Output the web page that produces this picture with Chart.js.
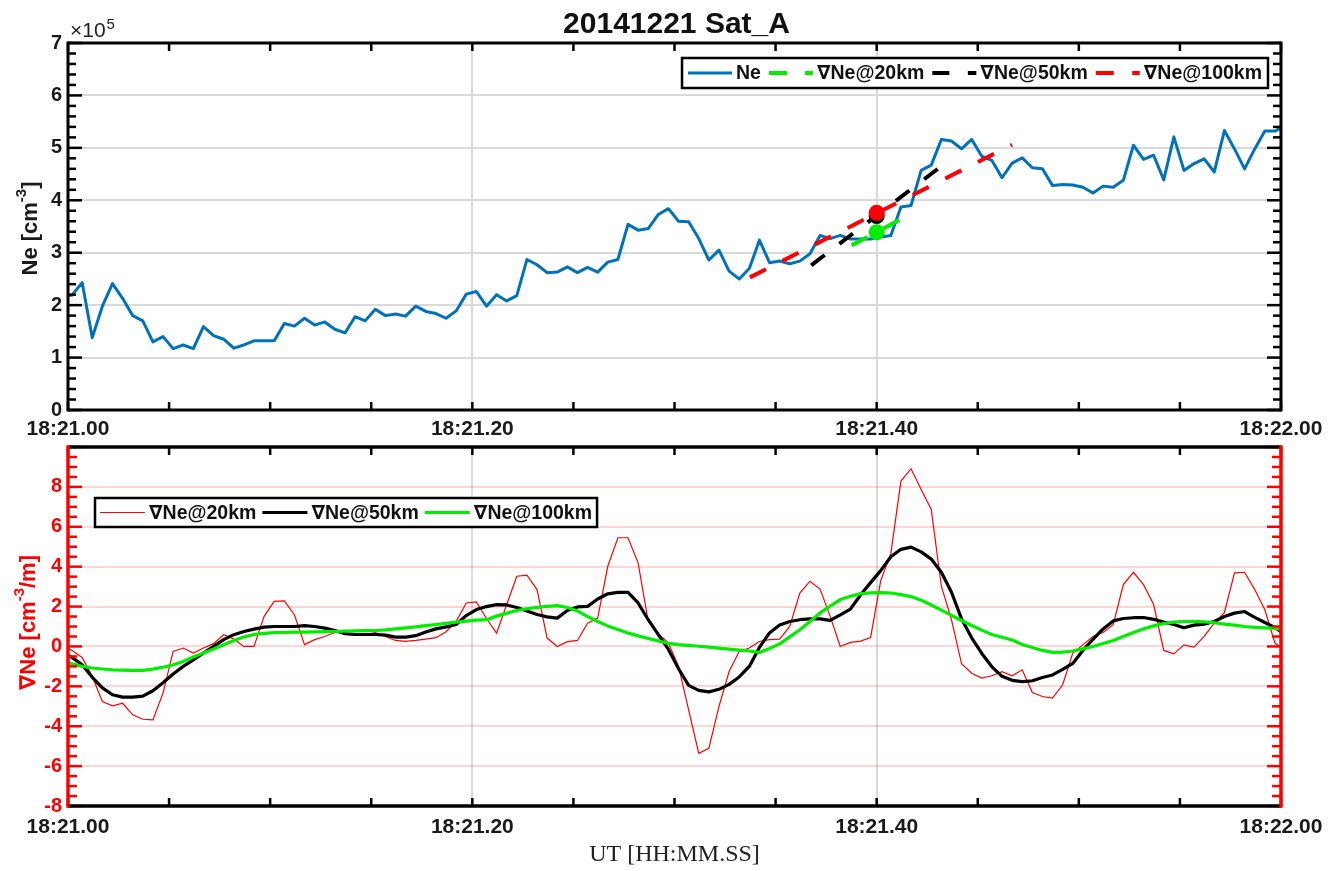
<!DOCTYPE html>
<html>
<head>
<meta charset="utf-8">
<title>20141221 Sat_A</title>
<script src="https://cdn.jsdelivr.net/npm/chart.js@4.4.1/dist/chart.umd.min.js"></script>
<style>
  html, body { margin: 0; padding: 0; background: #fff; }
  #wrap { position: relative; width: 1338px; height: 871px; overflow: hidden; background: #fff; }
  canvas { position: absolute; left: 0; }
  #neChart { top: 0; }
  #gradChart { top: 425px; }
</style>
</head>
<body>
<div id="wrap">
  <canvas id="neChart" width="1338" height="445"></canvas>
  <canvas id="gradChart" width="1338" height="446"></canvas>
</div>
<script>
// ---- sample times, seconds after 18:21:00 UT (2 Hz) ----
const sampleTimes = [
  -0.3,
  0.2, 0.7, 1.2, 1.7, 2.2, 2.7, 3.2, 3.7, 4.2, 4.7,
  5.2, 5.7, 6.2, 6.7, 7.2, 7.7, 8.2, 8.7, 9.2, 9.7,
  10.2, 10.7, 11.2, 11.7, 12.2, 12.7, 13.2, 13.7, 14.2, 14.7,
  15.2, 15.7, 16.2, 16.7, 17.2, 17.7, 18.2, 18.7, 19.2, 19.7,
  20.2, 20.7, 21.2, 21.7, 22.2, 22.7, 23.2, 23.7, 24.2, 24.7,
  25.2, 25.7, 26.2, 26.7, 27.2, 27.7, 28.2, 28.7, 29.2, 29.7,
  30.2, 30.7, 31.2, 31.7, 32.2, 32.7, 33.2, 33.7, 34.2, 34.7,
  35.2, 35.7, 36.2, 36.7, 37.2, 37.7, 38.2, 38.7, 39.2, 39.7,
  40.2, 40.7, 41.2, 41.7, 42.2, 42.7, 43.2, 43.7, 44.2, 44.7,
  45.2, 45.7, 46.2, 46.7, 47.2, 47.7, 48.2, 48.7, 49.2, 49.7,
  50.2, 50.7, 51.2, 51.7, 52.2, 52.7, 53.2, 53.7, 54.2, 54.7,
  55.2, 55.7, 56.2, 56.7, 57.2, 57.7, 58.2, 58.7, 59.2, 59.7,
  60.2
];

// ---- electron density Ne, units of 1e5 cm^-3 ----
const neValues = [
  2.17,
  2.19, 2.43, 1.38, 1.98, 2.41, 2.13, 1.80, 1.70, 1.30, 1.40,
  1.17, 1.24, 1.17, 1.59, 1.42, 1.35, 1.18, 1.24, 1.32, 1.32,
  1.32, 1.65, 1.60, 1.75, 1.62, 1.68, 1.54, 1.47, 1.78, 1.70,
  1.92, 1.80, 1.83, 1.79, 1.98, 1.88, 1.84, 1.75, 1.89, 2.21,
  2.26, 1.98, 2.20, 2.08, 2.18, 2.87, 2.77, 2.62, 2.63, 2.73,
  2.62, 2.72, 2.63, 2.82, 2.87, 3.54, 3.43, 3.46, 3.73, 3.84,
  3.60, 3.59, 3.27, 2.86, 3.05, 2.65, 2.50, 2.70, 3.24, 2.81,
  2.84, 2.79, 2.84, 2.98, 3.33, 3.27, 3.33, 3.26, 3.26, 3.26,
  3.30, 3.33, 3.87, 3.90, 4.57, 4.67, 5.16, 5.13, 4.98, 5.16,
  4.84, 4.76, 4.43, 4.71, 4.81, 4.62, 4.60, 4.28, 4.30, 4.29,
  4.25, 4.14, 4.27, 4.25, 4.38, 5.05, 4.78, 4.86, 4.39, 5.21,
  4.57, 4.70, 4.79, 4.54, 5.33, 4.98, 4.60, 4.98, 5.32, 5.32,
  5.42
];

// ---- Ne gradient over 20 / 50 / 100 km baselines ----
const grad20 = [
  0.05,
  -0.20, -0.55, -1.50, -2.76, -2.98, -2.85, -3.43, -3.65, -3.68, -2.34,
  -0.25, -0.08, -0.33, -0.08, 0.14, 0.59, 0.37, 0.00, 0.00, 1.51,
  2.26, 2.28, 1.59, 0.09, 0.34, 0.50, 0.70, 0.80, 0.75, 0.80,
  0.70, 0.50, 0.30, 0.25, 0.30, 0.37, 0.44, 0.74, 1.26, 2.18,
  2.23, 1.40, 0.67, 2.10, 3.52, 3.57, 2.85, 0.42, 0.00, 0.24,
  0.30, 1.17, 1.42, 4.02, 5.45, 5.45, 4.19, 1.26, 0.64, 0.17,
  -1.00, -3.18, -5.36, -5.11, -3.01, -1.26, -0.25, -0.08, 0.25, 0.34,
  0.37, 1.00, 2.68, 3.27, 2.88, 1.51, 0.00, 0.20, 0.27, 0.45,
  3.30, 4.65, 8.29, 8.91, 7.87, 6.87, 3.02, 1.34, -0.87, -1.34,
  -1.59, -1.47, -1.26, -1.47, -1.17, -2.31, -2.51, -2.59, -1.92, -0.33,
  0.08, 0.50, 0.70, 1.09, 3.10, 3.72, 3.10, 2.10, -0.20, -0.37,
  0.08, -0.03, 0.50, 1.17, 1.69, 3.69, 3.72, 2.85, 1.84, 0.17,
  -0.20
];
const grad50 = [
  -0.32,
  -0.55, -0.92, -1.55, -2.08, -2.42, -2.54, -2.54, -2.49, -2.22, -1.82,
  -1.38, -1.00, -0.67, -0.33, 0.00, 0.34, 0.59, 0.75, 0.87, 0.97,
  1.00, 1.00, 1.00, 1.04, 1.00, 0.92, 0.80, 0.64, 0.60, 0.60,
  0.60, 0.57, 0.47, 0.47, 0.54, 0.72, 0.88, 0.98, 1.10, 1.55,
  1.85, 2.00, 2.10, 2.08, 1.95, 1.78, 1.60, 1.48, 1.42, 1.80,
  1.98, 2.01, 2.38, 2.64, 2.71, 2.71, 2.18, 1.34, 0.59, -0.15,
  -1.12, -1.95, -2.20, -2.28, -2.15, -1.90, -1.53, -1.00, -0.05, 0.68,
  1.08, 1.25, 1.34, 1.38, 1.38, 1.31, 1.58, 1.87, 2.58, 3.20,
  3.80, 4.50, 4.87, 4.98, 4.74, 4.38, 3.72, 2.72, 1.38, 0.43,
  -0.35, -1.02, -1.50, -1.70, -1.76, -1.72, -1.56, -1.43, -1.15, -0.85,
  -0.20, 0.36, 0.88, 1.28, 1.40, 1.44, 1.45, 1.36, 1.22, 1.10,
  0.94, 1.07, 1.12, 1.25, 1.50, 1.67, 1.75, 1.46, 1.20, 0.95,
  0.60
];
const grad100 = [
  -0.75,
  -0.87, -1.00, -1.08, -1.13, -1.17, -1.19, -1.20, -1.20, -1.14, -1.04,
  -0.92, -0.75, -0.53, -0.33, -0.13, 0.08, 0.30, 0.47, 0.60, 0.66,
  0.69, 0.70, 0.72, 0.72, 0.73, 0.74, 0.75, 0.77, 0.78, 0.79,
  0.80, 0.83, 0.88, 0.93, 0.98, 1.04, 1.10, 1.16, 1.22, 1.27,
  1.32, 1.34, 1.52, 1.67, 1.80, 1.89, 1.96, 2.01, 2.05, 1.95,
  1.78, 1.50, 1.25, 1.03, 0.85, 0.67, 0.53, 0.40, 0.28, 0.15,
  0.09, 0.05, 0.01, -0.03, -0.08, -0.13, -0.18, -0.23, -0.30, -0.10,
  0.13, 0.48, 0.84, 1.25, 1.68, 2.02, 2.35, 2.52, 2.65, 2.69,
  2.70, 2.68, 2.60, 2.50, 2.32, 2.08, 1.82, 1.56, 1.30, 1.05,
  0.82, 0.60, 0.46, 0.32, 0.10, -0.05, -0.20, -0.30, -0.28, -0.23,
  -0.12, 0.00, 0.15, 0.30, 0.50, 0.70, 0.88, 1.03, 1.15, 1.22,
  1.25, 1.26, 1.23, 1.19, 1.12, 1.07, 1.00, 0.96, 0.93, 0.90,
  0.83
];

// ---- local gradient segments around 18:21:40 (Ne units) ----
const tan20Times = [38.76, 41.24];
const tan20Values = [3.14, 3.65];
const tan50Times = [36.76, 43.13];
const tan50Values = [2.76, 4.63];
const tan100Times = [33.73, 46.70];
const tan100Values = [2.53, 5.06];
const markerTime = [40];
const marker20 = [3.39];
const marker50 = [3.70];
const marker100 = [3.76];

// ---- axis ticks ----
const timeTicks = [0, 20, 40, 60];
const timeTickLabels = ['18:21.00', '18:21.20', '18:21.40', '18:22.00'];
const neTicks = [0, 1, 2, 3, 4, 5, 6, 7];
const gradTicks = [-8, -6, -4, -2, 0, 2, 4, 6, 8];

const SANS = '"Liberation Sans", "DejaVu Sans", Arial, Helvetica, sans-serif';
const SERIF = '"Liberation Serif", "DejaVu Serif", "Times New Roman", serif';
const BLUE = '#0072BD';
const GREEN = '#00ee00';
const RED = '#ff0000';

function toPoints(ts, vs) { return ts.map((t, i) => ({ x: t, y: vs[i] })); }

// Box, inward tick marks (major + minor) drawn over the plot like a framed axes
const axesBox = {
  id: 'axesBox',
  afterDraw(chart, _args, o) {
    const { ctx, chartArea: a } = chart;
    const xs = chart.scales.x, ys = chart.scales.y;
    const seg = (x1, y1, x2, y2) => { ctx.beginPath(); ctx.moveTo(x1, y1); ctx.lineTo(x2, y2); ctx.stroke(); };
    ctx.save();
    ctx.lineCap = 'butt';
    ctx.lineWidth = 2.5;
    ctx.strokeStyle = '#000';
    const nx = Math.round((xs.max - xs.min) / o.xStep);
    for (let i = 0; i <= nx; i++) {
      const px = xs.getPixelForValue(xs.min + i * o.xStep);
      seg(px, a.bottom, px, a.bottom - o.xLen);
      seg(px, a.top, px, a.top + o.xLen);
    }
    const ny = Math.round((ys.max - ys.min) / o.yStep);
    for (let i = 0; i <= ny; i++) {
      const v = ys.min + i * o.yStep;
      const py = ys.getPixelForValue(v);
      const r = v / o.yMajor;
      const len = Math.abs(r - Math.round(r)) < 1e-6 ? o.yMajorLen : o.yMinorLen;
      ctx.strokeStyle = o.leftColor; seg(a.left, py, a.left + len, py);
      ctx.strokeStyle = o.rightColor; seg(a.right, py, a.right - len, py);
    }
    ctx.lineWidth = o.frameWidth;
    ctx.strokeStyle = '#000';
    seg(a.left, a.top, a.right, a.top);
    seg(a.left, a.bottom, a.right, a.bottom);
    const h = o.frameWidth / 2;
    ctx.strokeStyle = o.leftColor; seg(a.left, a.top - h, a.left, a.bottom + h);
    ctx.strokeStyle = o.rightColor; seg(a.right, a.top - h, a.right, a.bottom + h);
    ctx.restore();
  }
};

// Framed legend placed inside the plot area
const boxLegend = {
  id: 'boxLegend',
  afterDraw(chart, _args, o) {
    const { ctx, chartArea: a } = chart;
    const items = o.items.map(i => chart.data.datasets[i]);
    ctx.save();
    ctx.font = o.font;
    const widths = items.map(d => ctx.measureText(d.label).width);
    let total = o.padX * 2;
    items.forEach((d, i) => {
      total += o.sampleW + o.sampleGap + widths[i];
      if (i < items.length - 1) total += o.itemGap;
    });
    const left = o.anchor === 'right' ? a.right - o.offsetX - total : a.left + o.offsetX;
    const top = a.top + o.offsetY;
    ctx.fillStyle = '#fff';
    ctx.fillRect(left, top, total, o.height);
    ctx.lineWidth = 2.5;
    ctx.strokeStyle = '#000';
    ctx.strokeRect(left, top, total, o.height);
    let x = left + o.padX;
    const cy = top + o.height / 2;
    items.forEach((d, i) => {
      ctx.strokeStyle = d.borderColor;
      ctx.lineWidth = d.borderWidth;
      ctx.setLineDash(d.borderDash || []);
      ctx.beginPath(); ctx.moveTo(x, cy); ctx.lineTo(x + o.sampleW, cy); ctx.stroke();
      ctx.setLineDash([]);
      x += o.sampleW + o.sampleGap;
      ctx.fillStyle = '#111';
      ctx.textAlign = 'left';
      ctx.textBaseline = 'middle';
      ctx.fillText(d.label, x, cy + 1);
      x += widths[i] + o.itemGap;
    });
    ctx.restore();
  }
};

// Rotated axis label with a superscript part
function drawRotatedLabel(ctx, baseX, centerY, parts, color) {
  ctx.save();
  ctx.fillStyle = color;
  ctx.textBaseline = 'alphabetic';
  ctx.textAlign = 'left';
  let total = 0;
  parts.forEach(p => { ctx.font = p.font; p.w = ctx.measureText(p.text).width; total += p.w; });
  ctx.translate(baseX, centerY);
  ctx.rotate(-Math.PI / 2);
  let x = -total / 2;
  parts.forEach(p => { ctx.font = p.font; ctx.fillText(p.text, x, -p.raise); x += p.w; });
  ctx.restore();
}

const neLabels = {
  id: 'neLabels',
  afterDraw(chart) {
    const { ctx, chartArea: a } = chart;
    ctx.save();
    ctx.fillStyle = '#111';
    ctx.font = 'bold 30px ' + SANS;
    ctx.textAlign = 'center';
    ctx.textBaseline = 'alphabetic';
    ctx.fillText('20141221 Sat_A', (a.left + a.right) / 2 + 2, 33);
    // exponent of the Ne axis
    ctx.textAlign = 'left';
    ctx.font = '21px ' + SANS;
    ctx.fillStyle = '#222';
    ctx.fillText('\u00d710', a.left + 2, 37);
    const w = ctx.measureText('\u00d710').width;
    ctx.font = '15px ' + SANS;
    ctx.fillText('5', a.left + 2 + w + 1, 29);
    ctx.restore();
    drawRotatedLabel(ctx, 37, (a.top + a.bottom) / 2 + 2, [
      { text: 'Ne [cm', font: 'bold 22px ' + SANS, raise: 0 },
      { text: '-3', font: 'bold 15px ' + SANS, raise: 11 },
      { text: ']', font: 'bold 22px ' + SANS, raise: 0 }
    ], '#1a1a1a');
  }
};

const gradLabels = {
  id: 'gradLabels',
  afterDraw(chart) {
    const { ctx, chartArea: a } = chart;
    drawRotatedLabel(ctx, 35, (a.top + a.bottom) / 2 - 4, [
      { text: '\u2207Ne [cm', font: 'bold 22px ' + SANS, raise: 0 },
      { text: '-3', font: 'bold 15px ' + SANS, raise: 11 },
      { text: '/m]', font: 'bold 22px ' + SANS, raise: 0 }
    ], RED);
    ctx.save();
    ctx.fillStyle = '#222';
    ctx.font = '24px ' + SERIF;
    ctx.textAlign = 'center';
    ctx.textBaseline = 'middle';
    ctx.fillText('UT [HH:MM.SS]', (a.left + a.right) / 2, 430);
    ctx.restore();
  }
};

function timeAxis(canvasH, chartBottom, labelPad) {
  return {
    type: 'linear',
    position: 'bottom',
    min: 0,
    max: 60,
    afterBuildTicks: s => { s.ticks = timeTicks.map(v => ({ value: v })); },
    afterFit: s => { s.height = canvasH - chartBottom; },
    ticks: {
      autoSkip: false,
      maxRotation: 0,
      padding: labelPad,
      color: '#1a1a1a',
      font: { family: SANS, size: 21, weight: 'bold' },
      callback: (v, i) => timeTickLabels[i]
    },
    grid: {
      drawTicks: false,
      lineWidth: 2,
      color: c => (c.tick && (c.tick.value === 20 || c.tick.value === 40)) ? 'rgba(0,0,0,0.15)' : 'rgba(0,0,0,0)'
    },
    border: { display: false }
  };
}

// ---------- upper panel: Ne ----------
new Chart(document.getElementById('neChart'), {
  type: 'line',
  data: {
    datasets: [
      { label: 'Ne', data: toPoints(sampleTimes, neValues), borderColor: BLUE, borderWidth: 3,
        pointRadius: 0, borderJoinStyle: 'round', order: 10 },
      { label: '\u2207Ne@20km', data: toPoints(tan20Times, tan20Values), borderColor: GREEN, borderWidth: 4,
        borderDash: [18, 18], pointRadius: 0, order: 7 },
      { label: '\u2207Ne@50km', data: toPoints(tan50Times, tan50Values), borderColor: '#000', borderWidth: 4,
        borderDash: [17, 18.5], pointRadius: 0, order: 6 },
      { label: '\u2207Ne@100km', data: toPoints(tan100Times, tan100Values), borderColor: RED, borderWidth: 4,
        borderDash: [18, 18.5], pointRadius: 0, order: 5 },
      { label: 'point50', data: toPoints(markerTime, marker50), showLine: false, pointRadius: 8,
        pointBackgroundColor: '#000', pointBorderColor: '#000', pointBorderWidth: 0, order: 3 },
      { label: 'point100', data: toPoints(markerTime, marker100), showLine: false, pointRadius: 8,
        pointBackgroundColor: RED, pointBorderColor: RED, pointBorderWidth: 0, order: 2 },
      { label: 'point20', data: toPoints(markerTime, marker20), showLine: false, pointRadius: 8,
        pointBackgroundColor: GREEN, pointBorderColor: GREEN, pointBorderWidth: 0, order: 1 }
    ]
  },
  options: {
    responsive: false,
    animation: false,
    devicePixelRatio: 1,
    events: [],
    layout: { padding: { top: 43, right: 57, left: 0, bottom: 0 } },
    plugins: {
      legend: { display: false },
      tooltip: { enabled: false },
      axesBox: { xStep: 5, xLen: 8, yStep: 0.2, yMajor: 1, yMajorLen: 14, yMinorLen: 8,
                 leftColor: '#000', rightColor: '#000', frameWidth: 3 },
      boxLegend: { items: [0, 1, 2, 3], font: 'bold 19.5px ' + SANS, anchor: 'right', offsetX: 13, offsetY: 15,
                   height: 30, padX: 6, sampleW: 44, sampleGap: 4, itemGap: 8 }
    },
    scales: {
      x: timeAxis(445, 410, 7),
      y: {
        min: 0,
        max: 7,
        afterBuildTicks: s => { s.ticks = neTicks.map(v => ({ value: v })); },
        afterFit: s => { s.width = 68; },
        ticks: { padding: 6, color: '#1a1a1a', font: { family: SANS, size: 20, weight: 'bold' } },
        grid: { drawTicks: false, lineWidth: 2,
                color: c => (c.tick && c.tick.value > 0 && c.tick.value < 7) ? '#d9d9d9' : 'rgba(0,0,0,0)' },
        border: { display: false }
      }
    }
  },
  plugins: [axesBox, boxLegend, neLabels]
});

// ---------- lower panel: gradients ----------
new Chart(document.getElementById('gradChart'), {
  type: 'line',
  data: {
    datasets: [
      { label: '\u2207Ne@20km', data: toPoints(sampleTimes, grad20), borderColor: RED, borderWidth: 1.2,
        pointRadius: 0, order: 3 },
      { label: '\u2207Ne@50km', data: toPoints(sampleTimes, grad50), borderColor: '#000', borderWidth: 3.2,
        pointRadius: 0, borderJoinStyle: 'round', order: 2 },
      { label: '\u2207Ne@100km', data: toPoints(sampleTimes, grad100), borderColor: GREEN, borderWidth: 3.2,
        pointRadius: 0, borderJoinStyle: 'round', order: 1 }
    ]
  },
  options: {
    responsive: false,
    animation: false,
    devicePixelRatio: 1,
    events: [],
    layout: { padding: { top: 22, right: 57, left: 0, bottom: 0 } },
    plugins: {
      legend: { display: false },
      tooltip: { enabled: false },
      axesBox: { xStep: 5, xLen: 8, yStep: 0.5, yMajor: 2, yMajorLen: 14, yMinorLen: 9,
                 leftColor: RED, rightColor: RED, frameWidth: 3.5 },
      boxLegend: { items: [0, 1, 2], font: 'bold 19.5px ' + SANS, anchor: 'left', offsetX: 27, offsetY: 51,
                   height: 29, padX: 5, sampleW: 45, sampleGap: 4, itemGap: 6 }
    },
    scales: {
      x: timeAxis(446, 381, 9),
      y: {
        min: -8,
        max: 10,
        afterBuildTicks: s => { s.ticks = gradTicks.map(v => ({ value: v })); },
        afterFit: s => { s.width = 68; },
        ticks: { padding: 6, color: RED, font: { family: SANS, size: 20, weight: 'bold' } },
        grid: { drawTicks: false, lineWidth: 2,
                color: c => (c.tick && c.tick.value > -8) ? 'rgba(255,0,0,0.16)' : 'rgba(0,0,0,0)' },
        border: { display: false }
      }
    }
  },
  plugins: [axesBox, boxLegend, gradLabels]
});
</script>
</body>
</html>
